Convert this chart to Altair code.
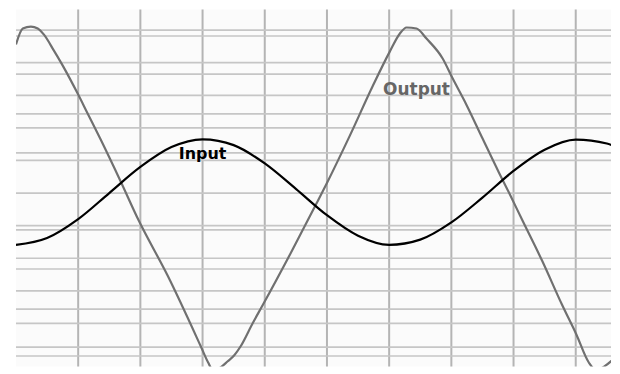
import altair as alt
import pandas as pd

# Grid positions (in grid divisions)
grid_x = [1, 2, 3, 4, 5, 6, 7, 8, 9]
grid_a = [5, 4, 3, 2, 1, 0, -1, -2, -3, -4, -5]
grid_b = [4.82, 3.65, 2.43, 1.23, -1.13, -2.33, -3.56, -4.73]

# Input signal (black)
in_t = [0, 0.5, 1.0, 1.5, 2.0, 2.5, 3.0, 3.5, 4.0, 4.5, 5.0, 5.5, 6.0,
        6.5, 7.0, 7.5, 8.0, 8.5, 9.0, 9.5, 9.65]
in_v = [-1.59, -1.38, -0.80, 0.00, 0.80, 1.41, 1.65, 1.47, 0.91, 0.13, -0.68,
        -1.31, -1.59, -1.43, -0.90, -0.14, 0.68, 1.33, 1.64, 1.52, 1.42]

# Output signal (grey)
out_t = [0, 0.11, 0.24, 0.35, 0.45, 0.61, 0.77, 0.99, 1.15, 1.36, 1.68, 1.97,
         2.44, 2.98, 3.09, 3.17, 3.29, 3.40, 3.51, 3.61, 3.81, 3.97, 4.41,
         4.81, 5.0, 5.37, 5.74, 6.01, 6.17, 6.28, 6.44, 6.60, 6.86, 7.02,
         7.24, 7.50, 7.77, 7.93, 8.14, 8.46, 8.78, 9.01, 9.21, 9.33, 9.46,
         9.65]
out_v = [4.56, 5.05, 5.11, 5.05, 4.86, 4.37, 3.85, 3.06, 2.45, 1.65, 0.37,
         -0.83, -2.54, -4.74, -5.20, -5.44, -5.35, -5.17, -4.98, -4.71, -3.98,
         -3.43, -1.87, -0.40, 0.31, 1.77, 3.30, 4.34, 4.89, 5.08, 5.05, 4.74,
         4.13, 3.52, 2.72, 1.68, 0.61, 0.00, -0.83, -2.08, -3.43, -4.34,
         -5.20, -5.44, -5.32, -5.02]

label_text = ["Input", "Output"]
label_t = [3.0, 6.44]
label_v = [1.04, 3.0]

xs = alt.Scale(domain=[0, 9.567], nice=False, zero=False)
ys = alt.Scale(domain=[-5.32, 5.63], nice=False, zero=False)

vgrid = alt.Chart(pd.DataFrame({"t": grid_x})).mark_rule(
    color="#b4b4b4", strokeWidth=2
).encode(x=alt.X("t:Q", scale=xs, axis=None))

hgrid_a = alt.Chart(pd.DataFrame({"v": grid_a})).mark_rule(
    color="#c6c6c6", strokeWidth=1.7
).encode(y=alt.Y("v:Q", scale=ys, axis=None))

hgrid_b = alt.Chart(pd.DataFrame({"v": grid_b})).mark_rule(
    color="#c6c6c6", strokeWidth=1.7
).encode(y=alt.Y("v:Q", scale=ys, axis=None))

inp = alt.Chart(pd.DataFrame({"t": in_t, "v": in_v})).mark_line(
    color="#000000", strokeWidth=2.2, interpolate="monotone", clip=True
).encode(x=alt.X("t:Q", scale=xs, axis=None), y=alt.Y("v:Q", scale=ys, axis=None))

outp = alt.Chart(pd.DataFrame({"t": out_t, "v": out_v})).mark_line(
    color="#707070", strokeWidth=2.2, interpolate="monotone", clip=True
).encode(x=alt.X("t:Q", scale=xs, axis=None), y=alt.Y("v:Q", scale=ys, axis=None))

labels_df = pd.DataFrame({"label": label_text, "t": label_t, "v": label_v})

lab_in = alt.Chart(labels_df[labels_df.label == "Input"]).mark_text(
    font="DejaVu Sans", fontWeight="bold", fontSize=16, color="#000000",
    align="center", baseline="alphabetic"
).encode(x=alt.X("t:Q", scale=xs, axis=None), y=alt.Y("v:Q", scale=ys, axis=None),
         text="label:N")

lab_out = alt.Chart(labels_df[labels_df.label == "Output"]).mark_text(
    font="DejaVu Sans", fontWeight="bold", fontSize=17, color="#666666",
    align="center", baseline="alphabetic"
).encode(x=alt.X("t:Q", scale=xs, axis=None), y=alt.Y("v:Q", scale=ys, axis=None),
         text="label:N")

chart = alt.layer(vgrid, hgrid_a, hgrid_b, outp, inp, lab_in, lab_out).properties(
    width=597, height=358,
    padding={"left": 7, "top": 0, "right": 0, "bottom": 0},
    background="#ffffff",
).configure_view(strokeWidth=0, fill="#fbfbfb")

chart.save("out.html", embed_options={"renderer": "svg", "actions": False})
